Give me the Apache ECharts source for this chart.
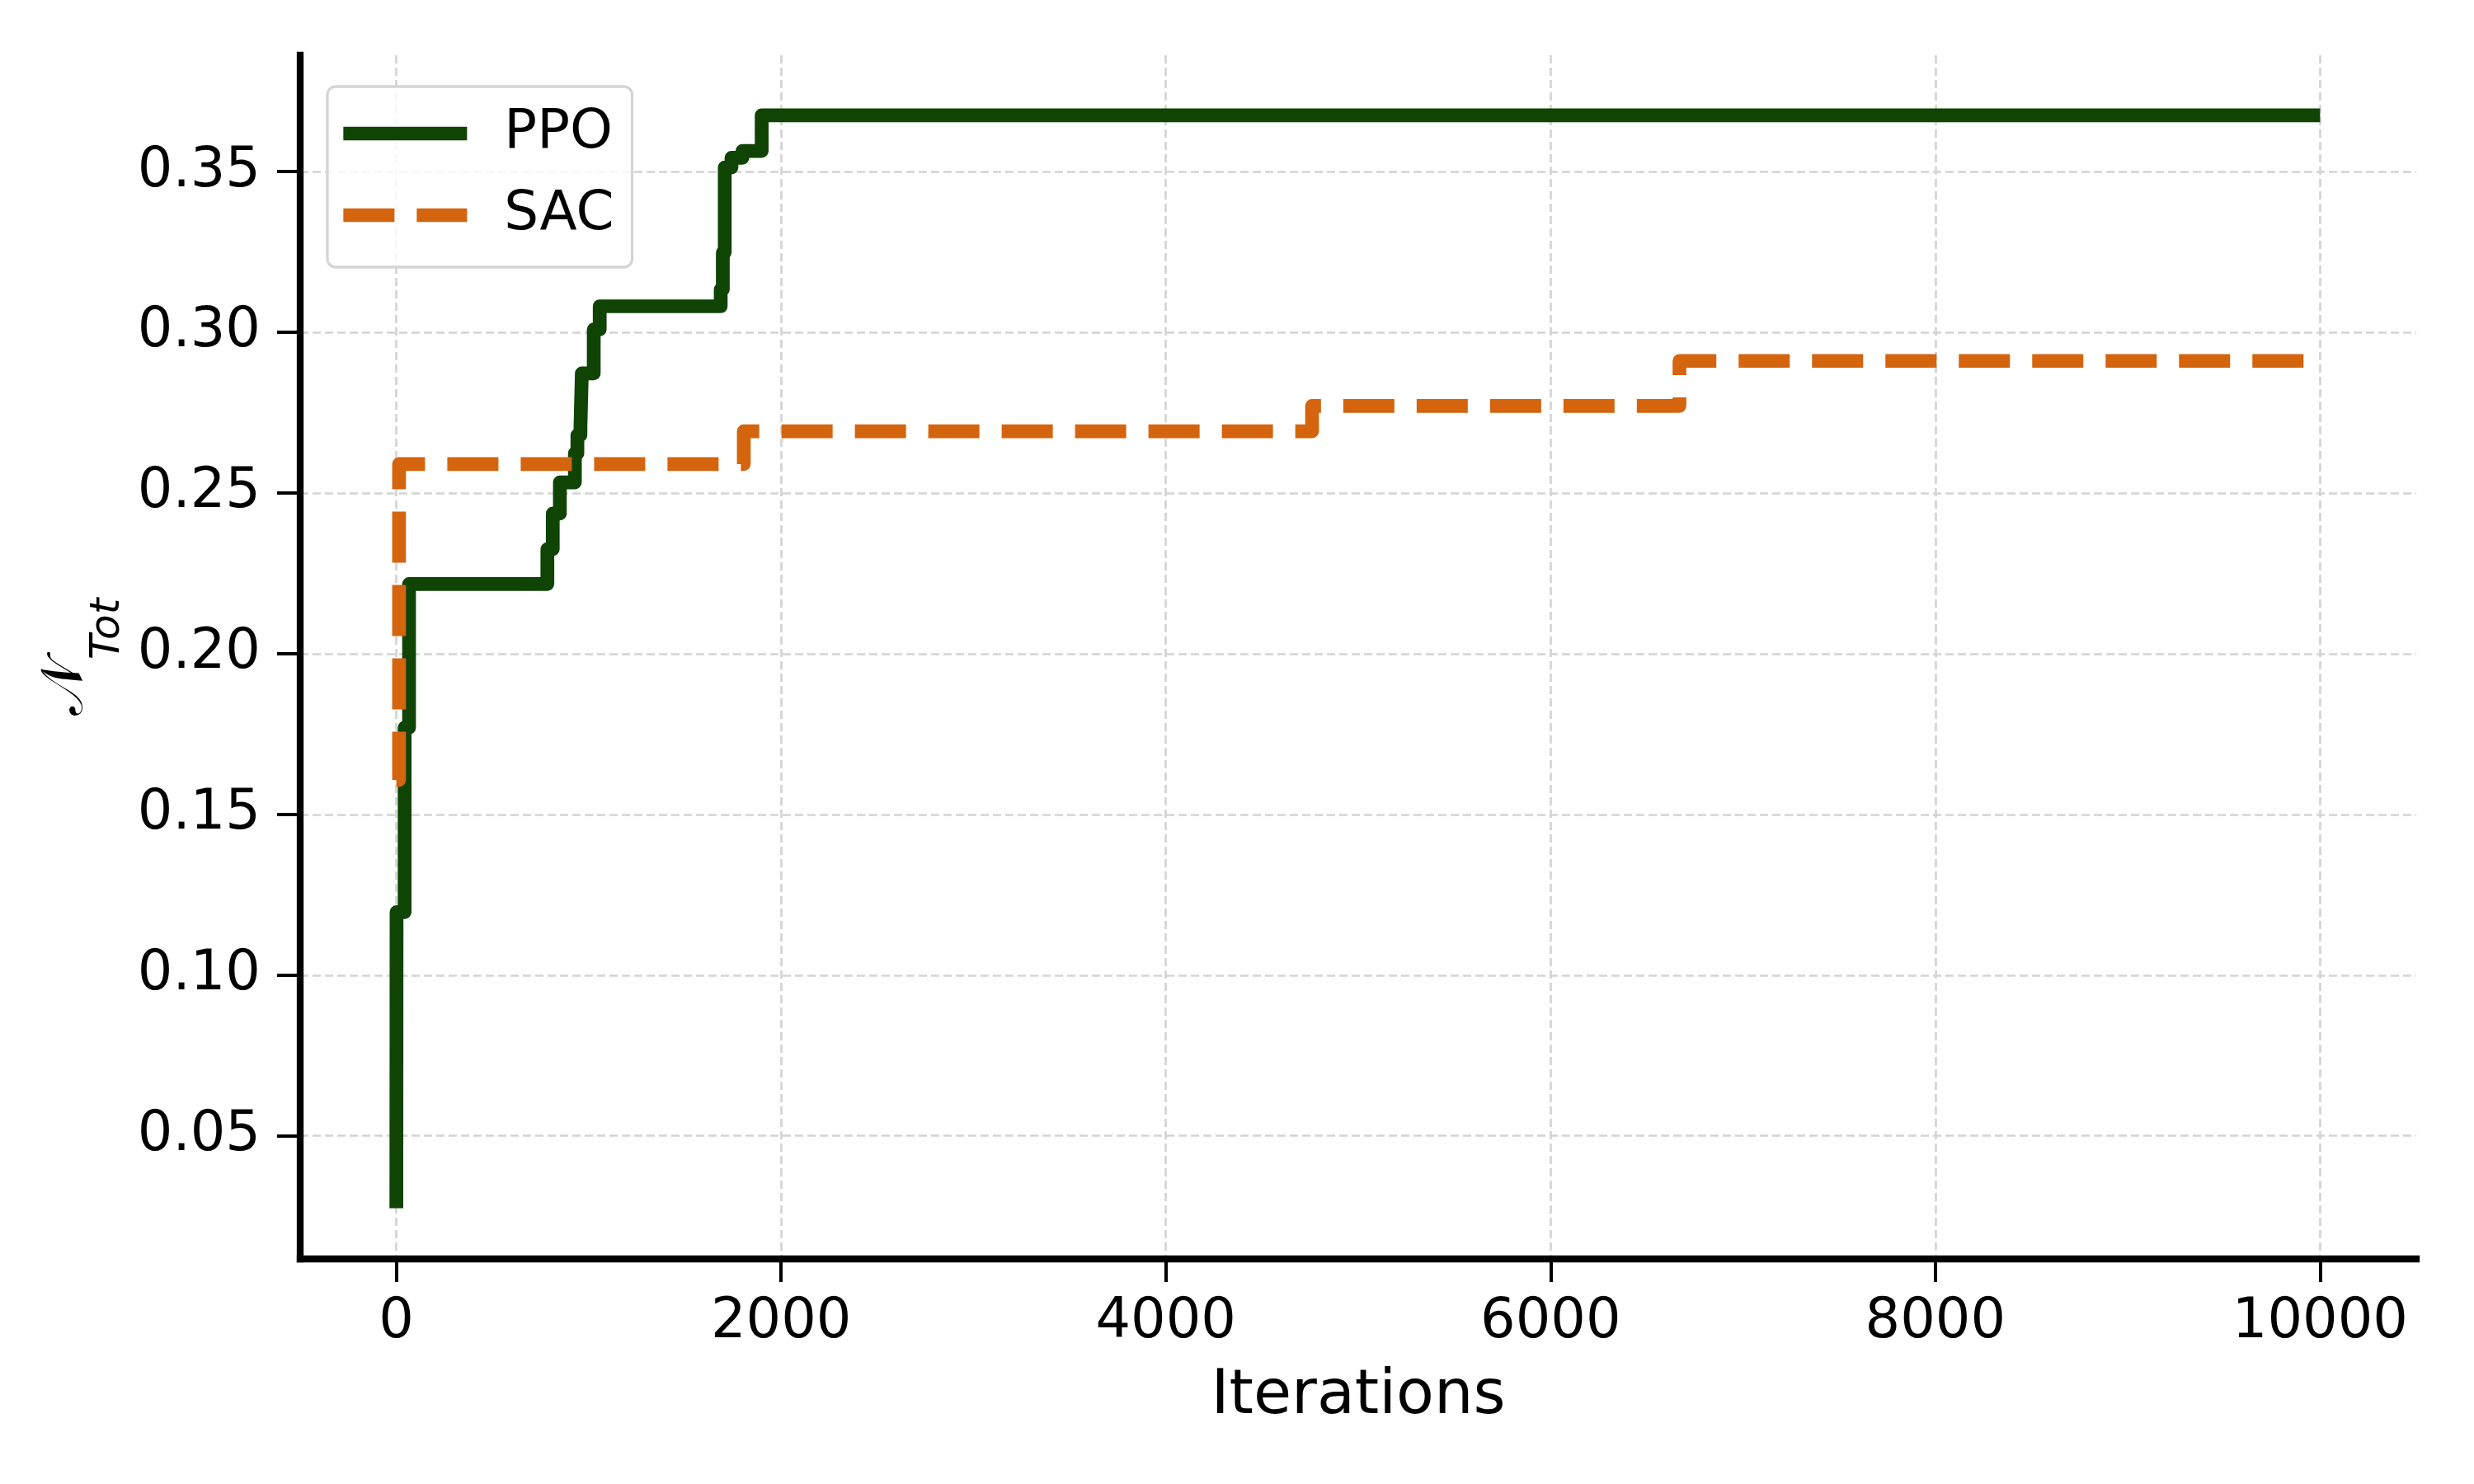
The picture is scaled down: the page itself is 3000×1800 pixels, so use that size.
<!DOCTYPE html>
<html>
<head>
<meta charset="utf-8">
<script src="https://cdn.jsdelivr.net/npm/echarts@6/dist/echarts.min.js"></script>
<style>
html,body{margin:0;padding:0;background:#fff;}
#c{width:3000px;height:1800px;}
</style>
</head>
<body>
<div id="c"></div>
<script>
// ---- data (step change points: [iteration, value]) ----
const ppoX = [0, 1, 43, 66, 785, 813, 850, 928, 941, 957, 964, 1026, 1057, 1686, 1697, 1707, 1742, 1799, 1899, 10000];
const ppoY = [0.0275, 0.1196, 0.177, 0.2217, 0.2325, 0.2436, 0.2533, 0.2623, 0.2680, 0.2706, 0.2872, 0.3009, 0.3081, 0.3133, 0.3248, 0.3513, 0.3543, 0.3564, 0.3675, 0.3675];
const sacX = [0, 14, 1806, 4760, 6670, 10000];
const sacY = [0.1607, 0.259, 0.2692, 0.2771, 0.2911, 0.2911];
const xTicks = [0, 2000, 4000, 6000, 8000, 10000];
const yTicks = [0.05, 0.10, 0.15, 0.20, 0.25, 0.30, 0.35];
const seriesNames = ['PPO', 'SAC'];
const xLabel = 'Iterations';

const FONT = 'DejaVu Sans';
const chart = echarts.init(document.getElementById('c'), null, {renderer: 'canvas'});
const zip = (xs, ys) => xs.map((x, i) => [x, ys[i]]);
const gridStyle = {color: '#d4d4d4', width: 2.7, type: [10, 5]};

const option = {
  backgroundColor: '#ffffff',
  animation: false,
  grid: {left: 364, right: 70, top: 67, bottom: 273, containLabel: false},
  xAxis: {
    type: 'value', min: -500, max: 10500,
    name: xLabel, nameLocation: 'middle', nameGap: 130,
    nameTextStyle: {fontFamily: FONT, fontSize: 75, color: '#000'},
    axisLine: {onZero: false, lineStyle: {color: '#000', width: 8.3, cap: 'square'}},
    axisTick: {length: 28, lineStyle: {color: '#000', width: 4}, customValues: xTicks},
    axisLabel: {fontFamily: FONT, fontSize: 67, color: '#000', margin: 44, customValues: xTicks,
      formatter: v => String(v)},
    splitLine: {show: true, lineStyle: gridStyle}
  },
  yAxis: {
    type: 'value', min: 0.0117, max: 0.3862,
    name: '{n|𝒩}{s|Tot}', nameLocation: 'middle', nameGap: 225, nameRotate: 90,
    nameTextStyle: {
      fontFamily: FONT, color: '#000',
      rich: {
        n: {fontFamily: FONT, fontSize: 71, color: '#000', lineHeight: 90, verticalAlign: 'middle'},
        s: {fontFamily: FONT, fontSize: 50, fontStyle: 'italic', color: '#000', lineHeight: 50, verticalAlign: 'bottom', padding: [0, 0, -30, 0]}
      }
    },
    axisLine: {show: true, onZero: false, lineStyle: {color: '#000', width: 8.3, cap: 'square'}},
    axisTick: {show: true, length: 28, lineStyle: {color: '#000', width: 4}, customValues: yTicks},
    axisLabel: {fontFamily: FONT, fontSize: 67, color: '#000', margin: 48, customValues: yTicks,
      formatter: v => v.toFixed(2)},
    splitLine: {show: true, lineStyle: gridStyle}
  },
  legend: {
    orient: 'vertical', left: 397, top: 105,
    data: seriesNames,
    itemWidth: 150, itemHeight: 17, itemGap: 33,
    padding: [24, 22, 30, 11],
    backgroundColor: 'rgba(255,255,255,0.8)',
    borderColor: '#d5d5d5', borderWidth: 3.3, borderRadius: 10,
    lineStyle: {width: 16.7},
    itemStyle: {opacity: 0},
    textStyle: {fontFamily: FONT, fontSize: 66, color: '#000', padding: [0, 0, 0, 40]}
  },
  series: [
    {
      name: seriesNames[0], type: 'line', step: 'end', symbol: 'none', showSymbol: false,
      data: zip(ppoX, ppoY),
      lineStyle: {color: '#0f4405', width: 16.7, cap: 'butt', join: 'round'},
      itemStyle: {color: '#0f4405'}, z: 3
    },
    {
      name: seriesNames[1], type: 'line', step: 'end', symbol: 'none', showSymbol: false,
      data: zip(sacX, sacY),
      lineStyle: {color: '#d5640e', width: 16.7, type: [62, 27], cap: 'butt', join: 'round'},
      itemStyle: {color: '#d5640e'}, z: 4
    }
  ]
};
chart.setOption(option);
</script>
</body>
</html>
